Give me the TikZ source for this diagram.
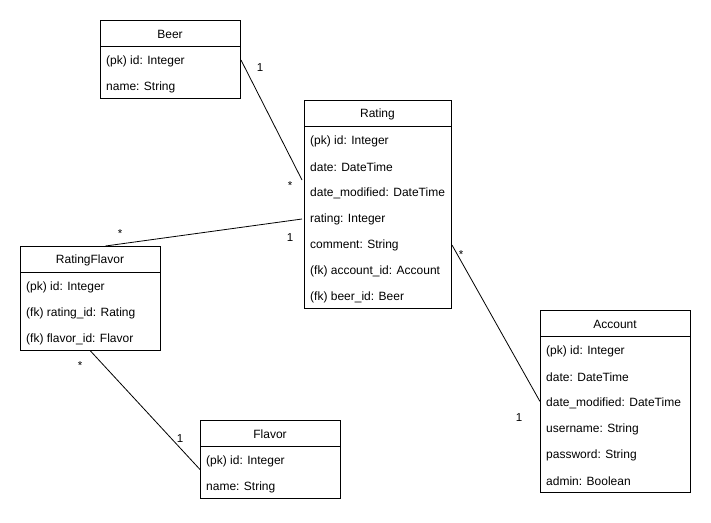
\documentclass[tikz,border=0pt]{standalone}
\usepackage{fontspec}
\setmainfont{Liberation Sans}
\usetikzlibrary{calc}
\begin{document}
\begin{tikzpicture}[x=1pt, y=-1pt, inner sep=0,
    tbl/.style={draw, line width=1pt, rectangle, anchor=north west},
    hd/.style={font=\fontsize{12}{14}\selectfont},
    fld/.style={anchor=west, font=\fontsize{12}{14}\selectfont},
    mult/.style={font=\fontsize{11.5}{13}\selectfont},
    rel/.style={line width=0.8pt}]
  \useasboundingbox (0,0) rectangle (711,522);
  % Beer
  \node[tbl, minimum width=140pt, minimum height=78pt] (beer) at (100,20) {};
  \draw[line width=1pt] ($(beer.north west)+(0,26)$) -- ($(beer.north east)+(0,26)$);
  \node[hd] (beer-h) at (170,34) {Beer};
  \foreach \t [count=\i] in {(pk) id: Integer, name: String}
    \node[fld] (beer-\i) at (106,35+26*\i) {\t};
  % Rating
  \node[tbl, minimum width=147pt, minimum height=208pt] (rating) at (304,100) {};
  \draw[line width=1pt] ($(rating.north west)+(0,26)$) -- ($(rating.north east)+(0,26)$);
  \node[hd] (rating-h) at (377.5,114) {Rating};
  \foreach \t [count=\i] in {(pk) id: Integer, date: DateTime, date\_modified: DateTime,
      rating: Integer, comment: String, (fk) account\_id: Account, (fk) beer\_id: Beer}
    \node[fld] (rating-\i) at (310,115+26*\i) {\t};
  % RatingFlavor
  \node[tbl, minimum width=140pt, minimum height=104pt] (rf) at (20,246) {};
  \draw[line width=1pt] ($(rf.north west)+(0,26)$) -- ($(rf.north east)+(0,26)$);
  \node[hd] (rf-h) at (90,260) {RatingFlavor};
  \foreach \t [count=\i] in {(pk) id: Integer, (fk) rating\_id: Rating, (fk) flavor\_id: Flavor}
    \node[fld] (rf-\i) at (26,261+26*\i) {\t};
  % Flavor
  \node[tbl, minimum width=140pt, minimum height=78pt] (flavor) at (200,420) {};
  \draw[line width=1pt] ($(flavor.north west)+(0,26)$) -- ($(flavor.north east)+(0,26)$);
  \node[hd] (flavor-h) at (270,434) {Flavor};
  \foreach \t [count=\i] in {(pk) id: Integer, name: String}
    \node[fld] (flavor-\i) at (206,435+26*\i) {\t};
  % Account
  \node[tbl, minimum width=150pt, minimum height=182pt] (account) at (540,310) {};
  \draw[line width=1pt] ($(account.north west)+(0,26)$) -- ($(account.north east)+(0,26)$);
  \node[hd] (account-h) at (615,324) {Account};
  \foreach \t [count=\i] in {(pk) id: Integer, date: DateTime, date\_modified: DateTime,
      username: String, password: String, admin: Boolean}
    \node[fld] (account-\i) at (546,325+26*\i) {\t};
  % relations
  \draw[rel] ($(beer.north east)+(0,40)$) -- ($(rating.north west)+(-2,80)$);
  \draw[rel] ($(rf.north)+(15,0)$) -- ($(rating.north west)+(-2,119)$);
  \draw[rel] ($(rating.north east)+(0,145)$) -- (account.west);
  \draw[rel] (rf.south) -- ($(flavor.west)+(0,10)$);
  \node[mult] (m1) at (260,68) {1};
  \node[mult] (m2) at (290,186) {*};
  \node[mult] (m3) at (120,234) {*};
  \node[mult] (m4) at (290,238) {1};
  \node[mult] (m5) at (461,255) {*};
  \node[mult] (m6) at (519,418) {1};
  \node[mult] (m7) at (80,366) {*};
  \node[mult] (m8) at (180,439) {1};
\end{tikzpicture}
\end{document}
